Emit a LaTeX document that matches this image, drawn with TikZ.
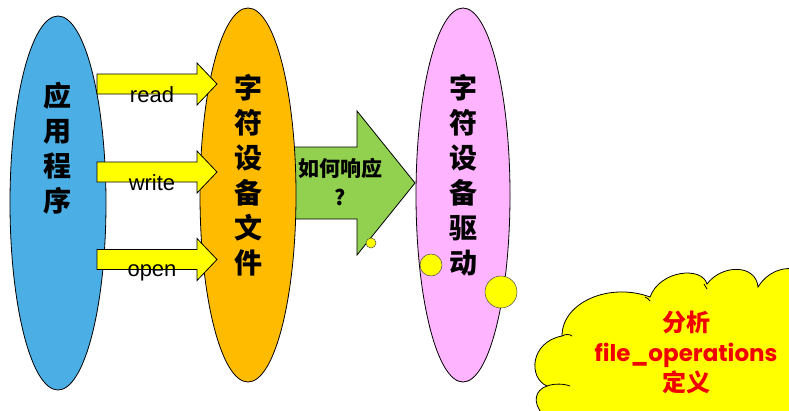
\documentclass[tikz,border=0pt]{standalone}
\usepackage{fontspec}
\setmainfont{Liberation Sans}
\newfontfamily\cjk{Noto Sans CJK SC}
\newfontfamily\pop{Poppins}
\usetikzlibrary{shapes.geometric}
\definecolor{blueC}{RGB}{75,174,228}
\definecolor{orangeC}{RGB}{255,187,0}
\definecolor{pinkC}{RGB}{255,180,255}
\definecolor{greenC}{RGB}{146,208,80}
\definecolor{yellowC}{RGB}{255,255,0}
\definecolor{redC}{RGB}{240,0,0}
\tikzset{
  ell/.style={ellipse, draw=black, line width=0.8pt, inner sep=0pt, outer sep=0pt},
  vtext/.style={align=center, font=\cjk\bfseries\fontsize{28}{35}\selectfont},
  yarrow/.style={draw=black, line width=0.8pt, fill=yellowC},
  alabel/.style={anchor=base, font=\fontsize{22}{24}\selectfont},
  dot/.style={circle, draw=black!70, line width=0.5pt, fill=yellowC, inner sep=0pt}
}
\begin{document}
\begin{tikzpicture}[x=1pt,y=-1pt]
\useasboundingbox (0,0) rectangle (789,410);
\clip (0,0) rectangle (789,410);

% cloud
\path[draw=black, line width=0.8pt, fill=yellowC]
  (543,415) .. controls (532,402) and (535,390) .. (547,386)
  .. controls (528,378) and (530,342) .. (562,336)
  .. controls (562,302) and (610,282) .. (650,297)
  .. controls (660,270) and (702,266) .. (707,284)
  .. controls (722,264) and (756,264) .. (758,287)
  .. controls (770,268) and (790,265) .. (805,272)
  -- (805,420) -- (543,420) -- cycle;
\draw[line width=0.8pt] (547,386) .. controls (555,383) and (565,384) .. (570,386);
\draw[line width=0.8pt] (562,336) .. controls (565,334) and (570,334) .. (572,336);
\draw[line width=0.8pt] (645,297) .. controls (647,298) and (649,299) .. (650,301);
\draw[line width=0.8pt] (704,284) .. controls (705,286) and (706,287) .. (707,289);
\node[align=center, text=redC, font=\fontsize{24}{30}\selectfont] (cloudtxt) at (686,352)
  {{\cjk\bfseries 分析}\\
   {\pop\bfseries\fontsize{23}{30}\selectfont file\_operations}\\
   {\cjk\bfseries 定义}};

% green arrow (behind file ellipse)
\path[draw=black, line width=0.8pt, fill=greenC]
  (290,147) -- (357,147) -- (357,111) -- (415,183) -- (357,255) -- (357,219) -- (290,219) -- cycle;

% ellipses
\node[ell, fill=blueC, minimum width=96, minimum height=374] (app) at (58,203) {};
\node[ell, fill=orangeC, minimum width=96, minimum height=374] (file) at (248,195) {};
\node[ell, fill=pinkC, minimum width=94, minimum height=374] (drv) at (463,195) {};

\node[vtext] (apptxt) at (57,148) {应\\用\\程\\序};
\node[vtext] (filetxt) at (248,175) {字\\符\\设\\备\\文\\件};
\node[vtext] (drvtxt) at (463,175) {字\\符\\设\\备\\驱\\动};

\node[align=center, font=\cjk\bfseries\fontsize{21}{29}\selectfont] (how) at (340,182) {如何响应\\?};

% yellow arrows
\foreach \c/\n in {84/a,172/b,259.5/c}{
  \path[yarrow] (97,\c-10) -- (197,\c-10) -- (197,\c-21) -- (217,\c) -- (197,\c+21) -- (197,\c+10) -- (97,\c+10) -- cycle;
}
\node[alabel] (read) at (152,102) {read};
\node[alabel] (write) at (152,190) {write};
\node[alabel] (open) at (152,276) {open};

% dots
\node[dot, minimum size=10] (d1) at (371,243) {};
\node[dot, minimum size=22] (d2) at (431,265) {};
\node[dot, minimum size=32] (d3) at (501,292) {};
\end{tikzpicture}
\end{document}
